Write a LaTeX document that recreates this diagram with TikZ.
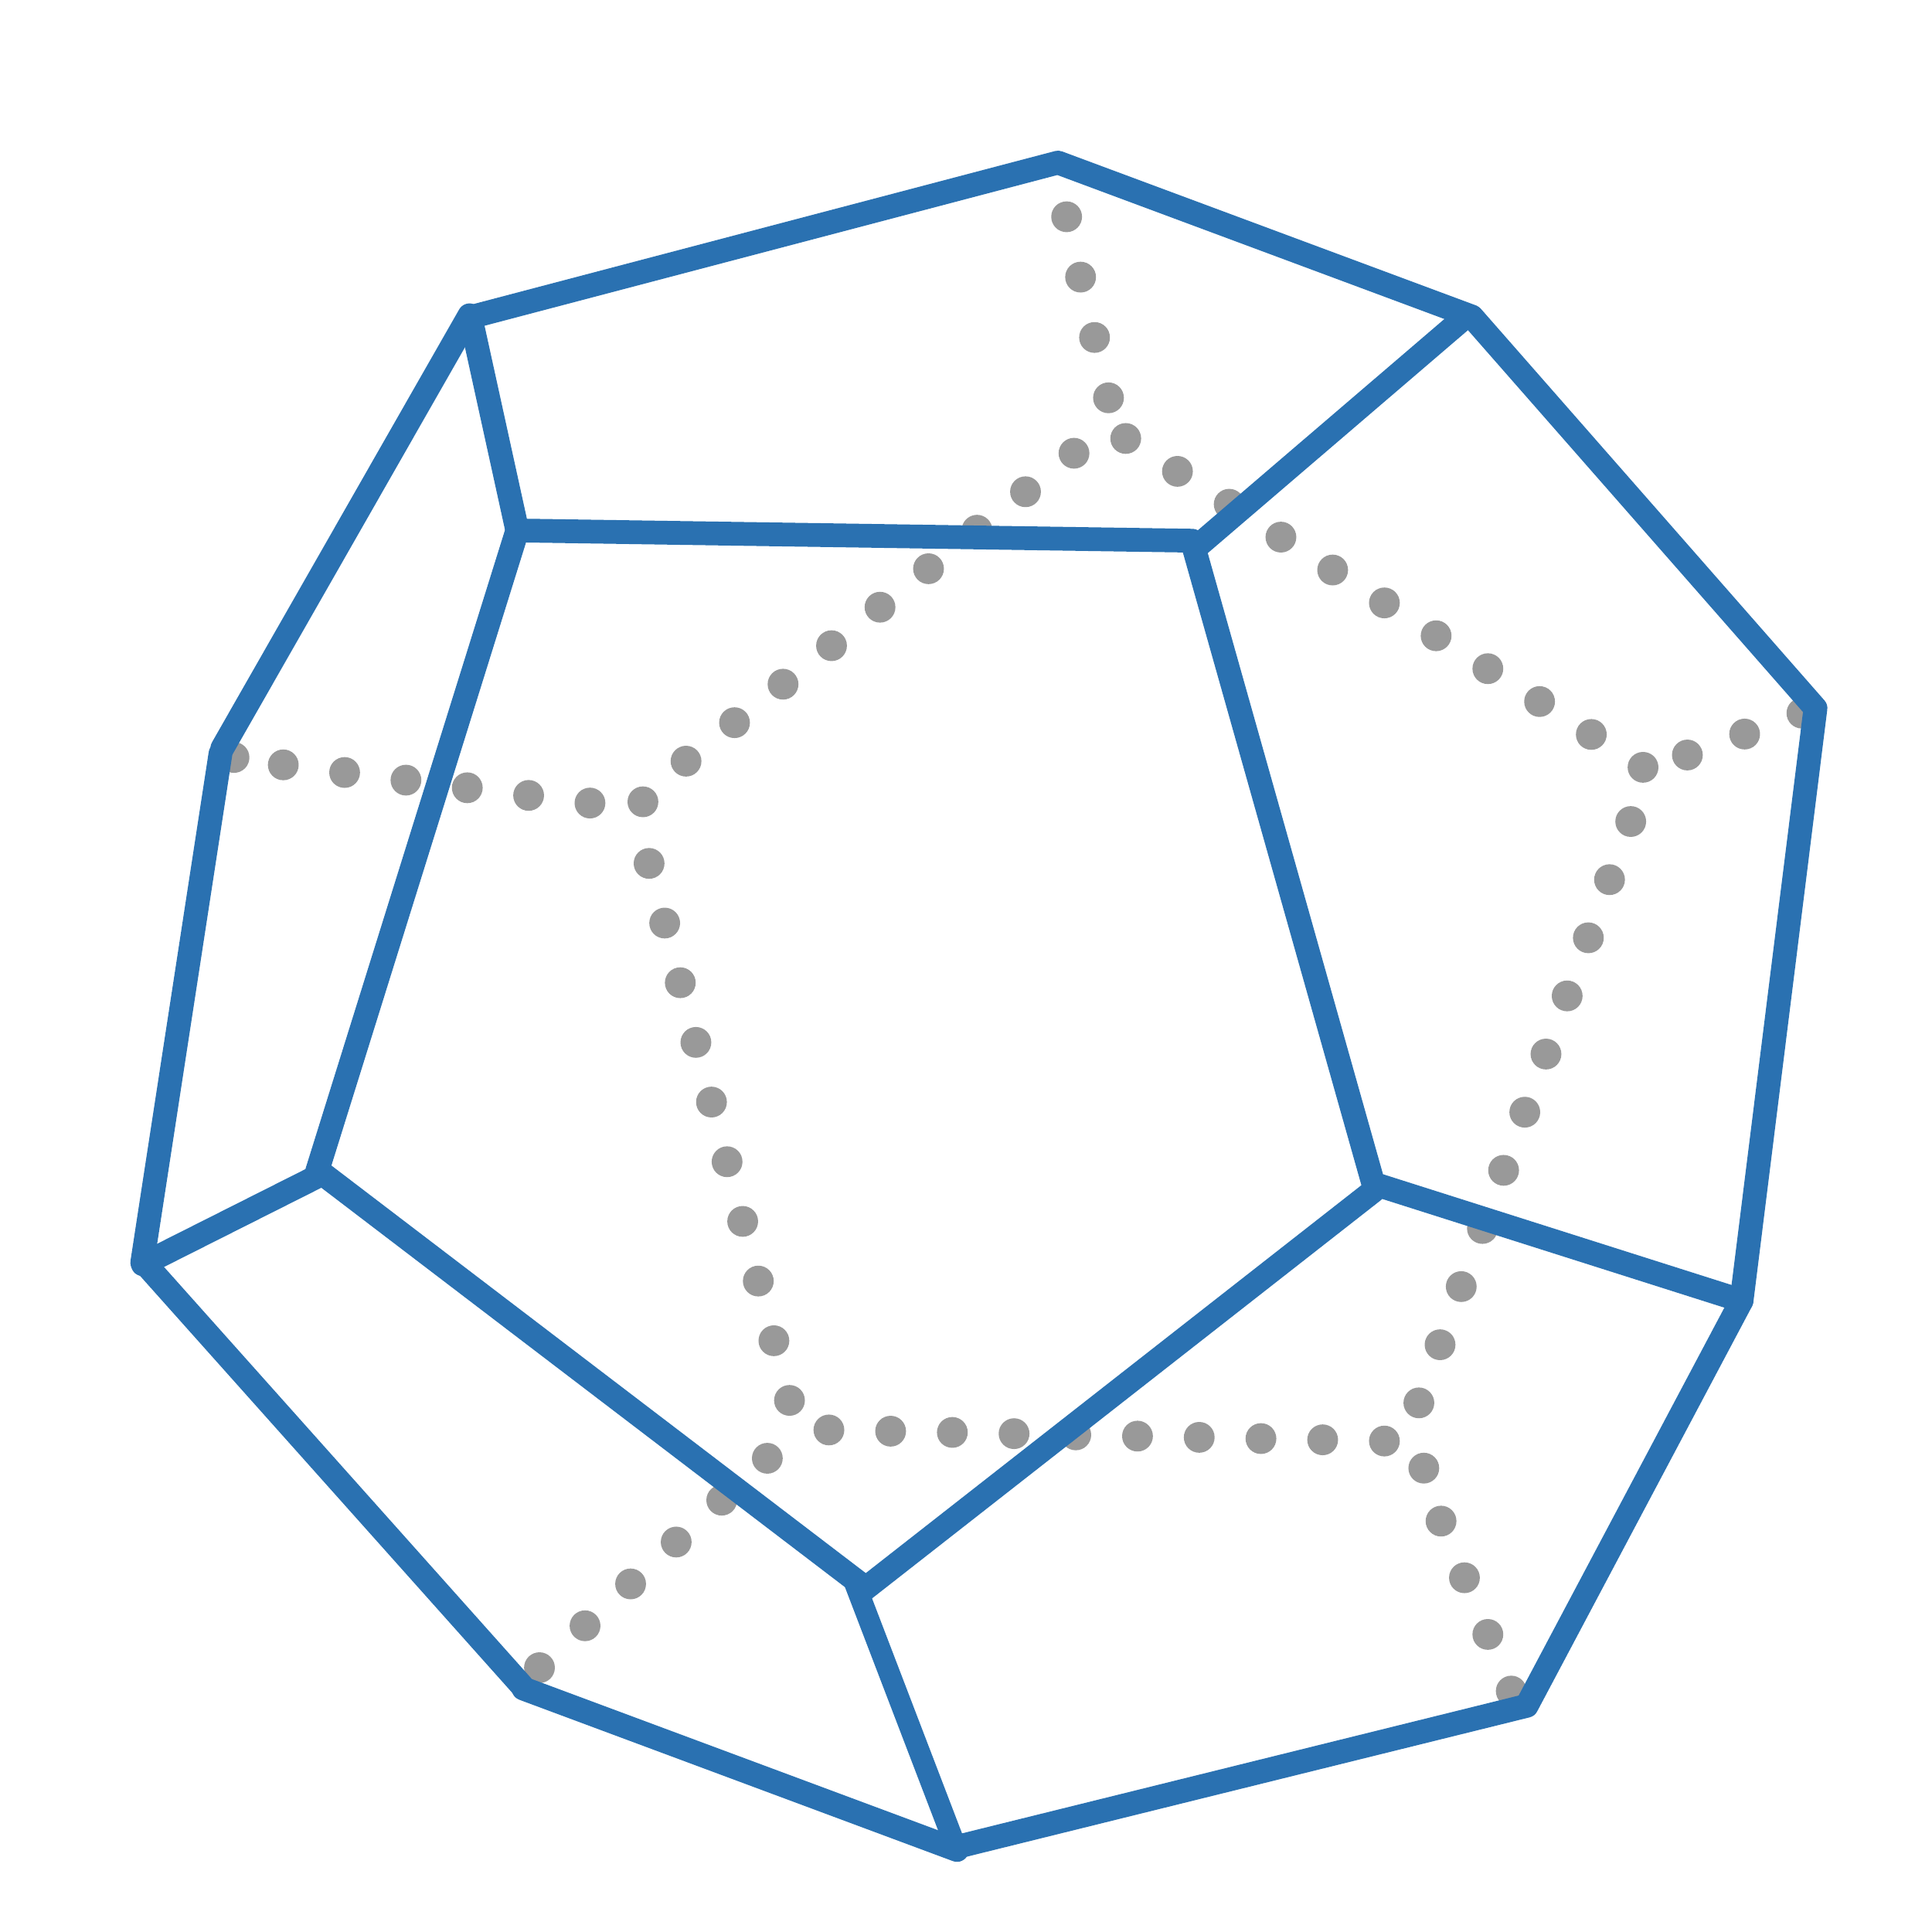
\documentclass[tikz,border=0pt]{standalone}
\usetikzlibrary{calc}
\definecolor{edgeblue}{HTML}{2A71B1}
\definecolor{hiddengray}{HTML}{999999}
\tikzset{
  visibleedge/.style={draw=edgeblue,line width=12.3pt,line cap=round,line join=round},
  hiddendot/.style={fill=hiddengray}
}
% dots from #1 to #2, #3 intervals
\newcommand{\hiddenrun}[3]{\foreach \i in {0,...,#3}{\fill[hiddendot] ($(#1)!{\i/#3}!(#2)$) circle (12.5);}}
\begin{document}
\begin{tikzpicture}[x=0.6375pt,y=-0.6375pt]
\useasboundingbox (0,0) rectangle (1568.63,1568.63);
% vertices (the drawn edges do not quite meet, so some have two ends)
\coordinate (A) at (859,132);
\coordinate (B) at (1195,257);
\coordinate (Bl) at (1189,257.8);
\coordinate (C) at (1474,575);
\coordinate (D) at (1414,1056);
\coordinate (E) at (1239.5,1385);
\coordinate (Fe) at (777,1499.5);
\coordinate (Fg) at (777,1502);
\coordinate (Gf) at (425,1371);
\coordinate (Gh) at (423.5,1368.4);
\coordinate (Hg) at (116.5,1024.5);
\coordinate (Hi) at (115.5,1025);
\coordinate (Ho) at (116,1026.5);
\coordinate (Ih) at (179,612);
\coordinate (Ij) at (180.5,607.5);
\coordinate (J) at (382,257.5);
\coordinate (Jb) at (381.2,256);
\coordinate (K) at (420,430.7);
\coordinate (Lk) at (968,439);
\coordinate (Lm) at (968,440);
\coordinate (Lb) at (974,442);
\coordinate (Md) at (1115,961);
\coordinate (Mn) at (1115,967);
\coordinate (Nm) at (701,1291);
\coordinate (No) at (696.7,1284.6);
\coordinate (Nf) at (693.5,1284);
\coordinate (Ok) at (257.5,951);
\coordinate (On) at (258,950);
\coordinate (Oh) at (258,955);
% hidden run ends
\coordinate (a1) at (866,176);   \coordinate (a2) at (900,323);
\coordinate (b1) at (914,356);   \coordinate (b2) at (1334,623);
\coordinate (c1) at (872,368);   \coordinate (c2) at (557,618);
\coordinate (d1) at (230,621);   \coordinate (d2) at (479,652);
\coordinate (e1) at (527,701);   \coordinate (e2) at (641,1137);
\coordinate (f1) at (673,1161);  \coordinate (f2) at (1124,1170);
\coordinate (g1) at (623,1184);  \coordinate (g2) at (438,1354);
\coordinate (h1) at (1152,1139); \coordinate (h2) at (1324,667);
\coordinate (i1) at (1170,1235); \coordinate (i2) at (1227,1373);
\coordinate (j1) at (1370,613);  \coordinate (j2) at (1463,579);
\coordinate (k1) at (190,615);
\coordinate (k2) at (522,651);
\coordinate (k3) at (1156,1192);
\hiddenrun{a1}{a2}{3}
\hiddenrun{b1}{b2}{10}
\hiddenrun{c1}{c2}{8}
\hiddenrun{d1}{d2}{5}
\hiddenrun{e1}{e2}{9}
\hiddenrun{f1}{f2}{9}
\hiddenrun{g1}{g2}{5}
\hiddenrun{h1}{h2}{10}
\hiddenrun{i1}{i2}{3}
\hiddenrun{j1}{j2}{2}
\fill[hiddendot] (k1) circle (12.5) (k2) circle (12.5) (k3) circle (12.5);
% visible edges
\draw[visibleedge] (J) -- (A) -- (B) -- (C) -- (D) -- (E) -- (Fe);
\draw[visibleedge] (Fg) -- (Gf);
\draw[visibleedge] (Gh) -- (Hg);
\draw[visibleedge] (Hi) -- (Ih);
\draw[visibleedge] (Ij) -- (Jb);
\draw[visibleedge] (J) -- (K) -- (Lk);
\draw[visibleedge] (Lb) -- (Bl);
\draw[visibleedge] (Lm) -- (Md) -- (D);
\draw[visibleedge] (Mn) -- (Nm);
\draw[visibleedge,line width=11pt] (Nf) -- (Fg);
\draw[visibleedge] (No) -- (On);
\draw[visibleedge] (Oh) -- (Ho);
\draw[visibleedge] (Ok) -- (K);
\end{tikzpicture}
\end{document}
